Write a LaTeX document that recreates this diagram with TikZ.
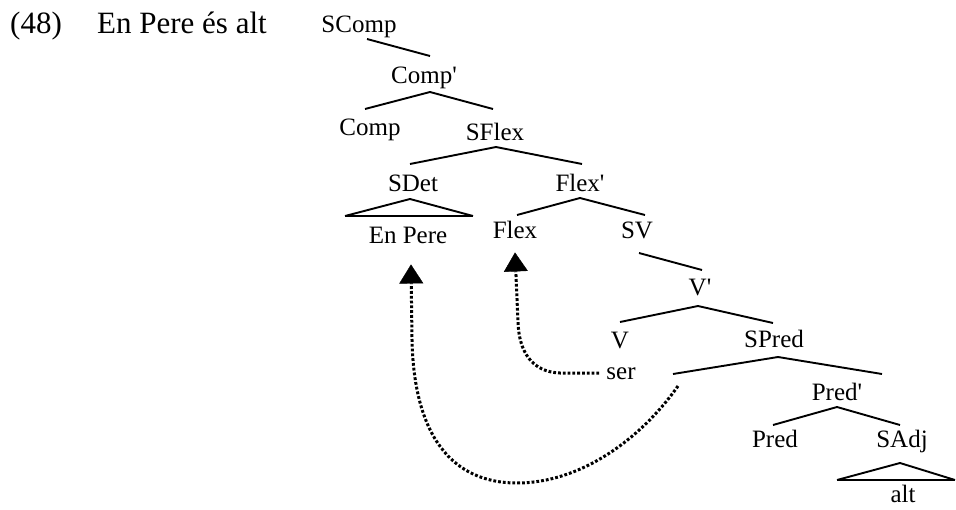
\documentclass[tikz,border=0pt]{standalone}
\usepackage{fontspec}
\setmainfont{Liberation Serif}
\usetikzlibrary{arrows.meta}
\begin{document}
\begin{tikzpicture}[x=1pt,y=-1pt,
  lbl/.style={anchor=base,inner sep=0pt,font=\fontsize{25}{30}\selectfont},
  ttl/.style={anchor=base west,inner sep=0pt,font=\fontsize{31}{36}\selectfont},
  branch/.style={line width=1.9pt},
  tribase/.style={line width=2.8pt},
  move/.style={line width=3pt,dash pattern=on 2.8pt off 2pt,
    -{Triangle[width=24pt,length=19pt,line width=0.4pt]}}]
\useasboundingbox (0,0) rectangle (956,509);
% title
\node[ttl] (num) at (10,33) {(48)};
\node[ttl] (title) at (97,33) {En Pere és alt};
% labels
\node[lbl] (SComp) at (359,32) {SComp};
\node[lbl] (Compp) at (424,83) {Comp\textquotesingle};
\node[lbl] (Comp) at (370,135) {Comp};
\node[lbl] (SFlex) at (495,140) {SFlex};
\node[lbl] (SDet) at (413,191) {SDet};
\node[lbl] (Flexp) at (580,191) {Flex\textquotesingle};
\node[lbl] (EnPere) at (408,243) {En Pere};
\node[lbl] (Flex) at (515,238) {Flex};
\node[lbl] (SV) at (637,238) {SV};
\node[lbl] (Vp) at (700,295) {V\textquotesingle};
\node[lbl] (V) at (620,348) {V};
\node[lbl] (ser) at (621,379) {ser};
\node[lbl] (SPred) at (774,347) {SPred};
\node[lbl] (Predp) at (837,400) {Pred\textquotesingle};
\node[lbl] (Pred) at (775,447) {Pred};
\node[lbl] (SAdj) at (902,447) {SAdj};
\node[lbl] (alt) at (903,502) {alt};
% branch end points
\coordinate (a0) at (367,39);  \coordinate (a1) at (430,56);
\coordinate (b0) at (430,92);  \coordinate (b1) at (365,109); \coordinate (b2) at (493,109);
\coordinate (c0) at (496,147); \coordinate (c1) at (410,164); \coordinate (c2) at (582,164);
\coordinate (d0) at (410,199); \coordinate (d1) at (345,216); \coordinate (d2) at (473,216);
\coordinate (e0) at (580,198); \coordinate (e1) at (517,215); \coordinate (e2) at (645,215);
\coordinate (f0) at (639,253); \coordinate (f1) at (702,270);
\coordinate (g0) at (698,306); \coordinate (g1) at (620,322); \coordinate (g2) at (773,323);
\coordinate (h0) at (778,357); \coordinate (h1) at (673,374); \coordinate (h2) at (882,374);
\coordinate (i0) at (837,407); \coordinate (i1) at (773,425); \coordinate (i2) at (900,425);
\coordinate (j0) at (900,463); \coordinate (j1) at (837,480); \coordinate (j2) at (955,480);
% branches
\draw[branch] (a0) -- (a1);
\draw[branch] (b1) -- (b0) -- (b2);
\draw[branch] (c1) -- (c0) -- (c2);
\draw[branch] (d1) -- (d0) -- (d2);
\draw[tribase] (d1) -- (d2);
\draw[branch] (e1) -- (e0) -- (e2);
\draw[branch] (f0) -- (f1);
\draw[branch] (g1) -- (g0) -- (g2);
\draw[branch] (h1) -- (h0) -- (h2);
\draw[branch] (i1) -- (i0) -- (i2);
\draw[branch] (j1) -- (j0) -- (j2);
\draw[tribase] (j1) -- (j2);
% movement
\coordinate (trace) at (678,386);
\coordinate (tipFlex) at ([yshift=-14pt]Flex.south);
\coordinate (tipDet) at ([xshift=3pt,yshift=-21pt]EnPere.south);
\draw[move] ([xshift=-7pt]ser.west) -- (560,373)
  .. controls (532,372) and (519,352) .. (518,322) -- (tipFlex);
\draw[move] (trace) .. controls (640,440) and (580,483) .. (517,483)
  .. controls (452,483) and (414,436) .. (412,340) -- (tipDet);
\end{tikzpicture}
\end{document}
